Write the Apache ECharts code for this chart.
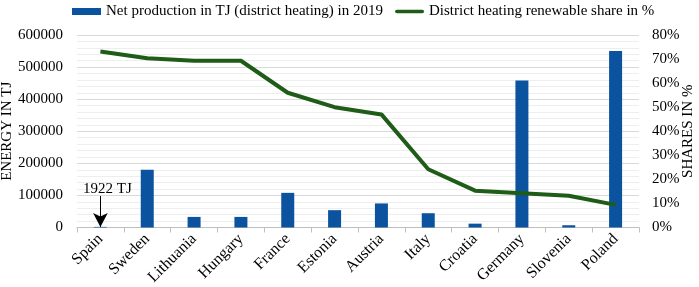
<!DOCTYPE html>
<html><head><meta charset="utf-8">
<script src="https://cdn.jsdelivr.net/npm/echarts@6/dist/echarts.min.js"></script>
<style>html,body{margin:0;padding:0;background:#fff}#c{width:699px;height:287px}</style>
</head><body><div id="c"></div>
<script>
const categories = ['Spain','Sweden','Lithuania','Hungary','France','Estonia','Austria','Italy','Croatia','Germany','Slovenia','Poland'];
const production = [1922,180000,33000,33000,108000,54000,75000,44500,12000,458000,7000,550000];
const renewableShare = [0.731,0.703,0.693,0.693,0.56,0.50,0.47,0.242,0.153,0.142,0.132,0.094];
const annotationText = '1922 TJ';
const F = 'Liberation Serif';
const chart = echarts.init(document.getElementById('c'));
chart.setOption({
  animation:false,
  textStyle:{fontFamily:F,color:'#000'},
  legend:{
    left:67, top:-1, itemGap:12, itemWidth:29, itemHeight:7,
    textStyle:{fontFamily:F,fontSize:15,color:'#000'},
    data:[{name:'Net production in TJ (district heating) in 2019',icon:'rect'},
          {name:'District heating renewable share in %',icon:'path://M2,0 h28 a2,2 0 0 1 0,4 h-28 a2,2 0 0 1 0,-4z'}]
  },
  grid:{left:77,right:60,top:35,bottom:59.5,containLabel:false,outerBoundsMode:'none'},
  xAxis:{
    type:'category', data:categories,
    axisLine:{lineStyle:{color:'#bfbfbf',width:1}},
    axisTick:{show:true,length:5,lineStyle:{color:'#bfbfbf'}},
    axisLabel:{rotate:45,fontFamily:F,fontSize:16,color:'#000',margin:9,interval:0}
  },
  yAxis:[{
    type:'value', min:0, max:600000, interval:100000,
    name:'ENERGY IN TJ', nameLocation:'middle', nameGap:62, nameRotate:90, nameMoveOverlap:false,
    nameTextStyle:{fontFamily:F,fontSize:15,color:'#000'},
    axisLabel:{fontFamily:F,fontSize:15,color:'#000',margin:14,formatter:v=>String(v)},
    axisLine:{show:false}, axisTick:{show:false},
    splitLine:{lineStyle:{color:'#d9d9d9',width:1}},
    minorTick:{show:false,splitNumber:5},
    minorSplitLine:{show:true,lineStyle:{color:'#eeeeee',width:1}}
  },{
    type:'value', min:0, max:0.8, interval:0.1,
    name:'SHARES IN %', nameLocation:'middle', nameGap:42, nameRotate:90, nameMoveOverlap:false,
    nameTextStyle:{fontFamily:F,fontSize:15,color:'#000'},
    axisLabel:{fontFamily:F,fontSize:15,color:'#000',margin:13,
      formatter:v=>Math.round(v*100)+'%'},
    axisLine:{show:false}, axisTick:{show:false}, splitLine:{show:false}
  }],
  series:[{
    name:'Net production in TJ (district heating) in 2019',
    type:'bar', data:production, barWidth:13, yAxisIndex:0,
    itemStyle:{color:'#0b539f'},
    markLine:{
      silent:true, symbol:['none','arrow'], symbolSize:[11,14],
      lineStyle:{color:'#000',width:1,type:'solid'},
      label:{show:true,position:'start',formatter:annotationText,fontFamily:F,fontSize:15,color:'#000',distance:2,offset:[7,3]},
      data:[[{coord:['Spain',98000]},{coord:['Spain',production[0]]}]]
    }
  },{
    name:'District heating renewable share in %',
    type:'line', data:renewableShare, yAxisIndex:1,
    symbol:'none', lineStyle:{color:'#1e5c17',width:4}, itemStyle:{color:'#1e5c17'}
  }]
});
</script></body></html>
